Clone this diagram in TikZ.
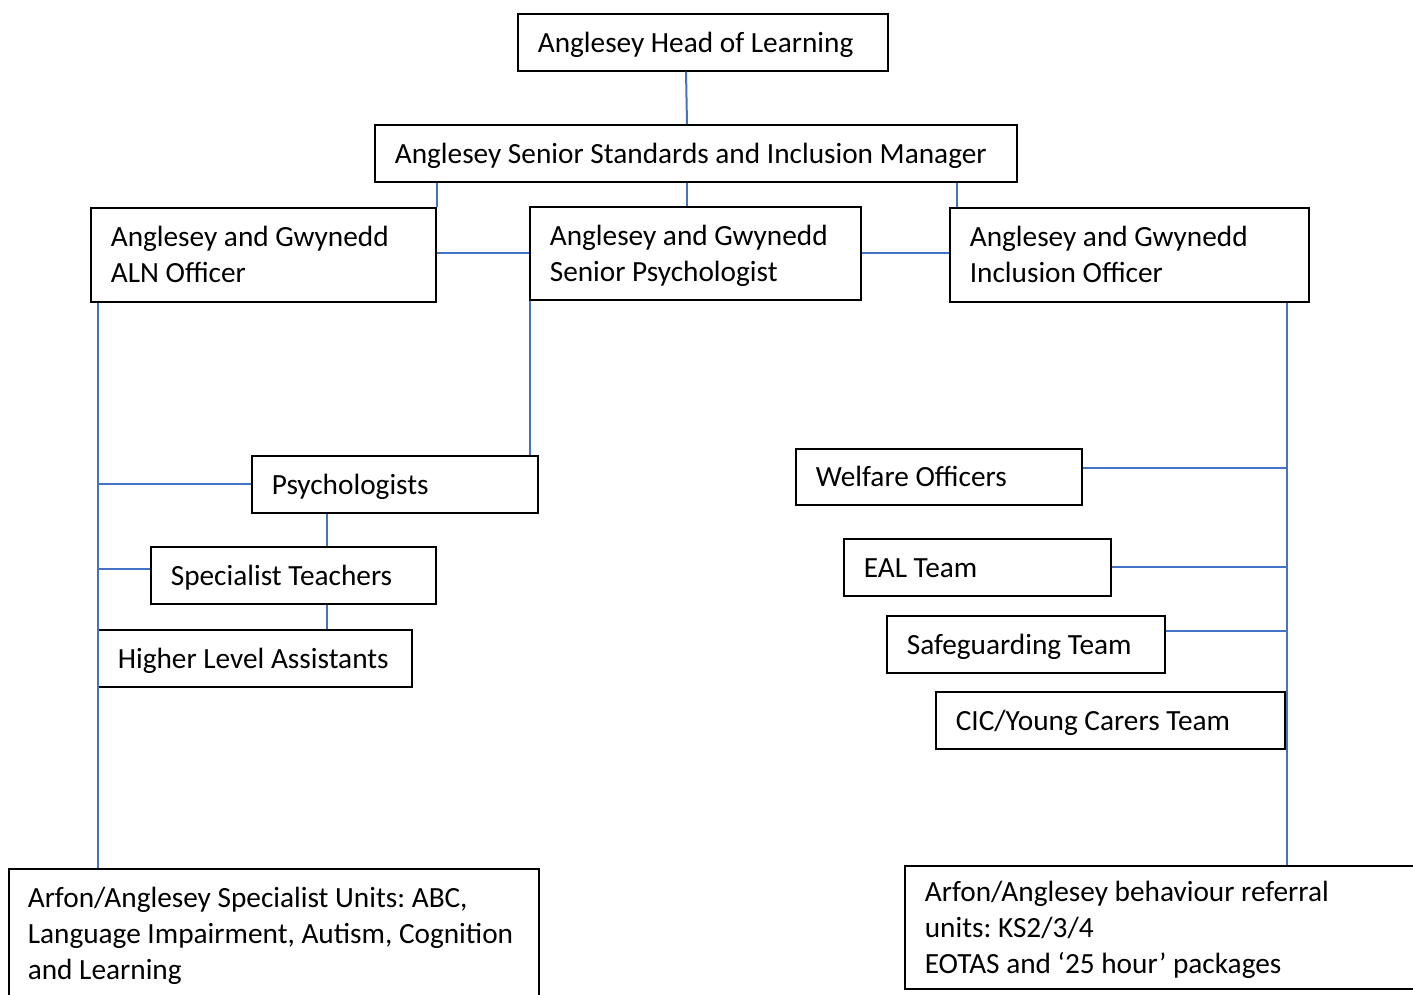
\documentclass[tikz,border=0pt]{standalone}
\usepackage{fontspec}
\setmainfont{Carlito}
\usepackage{xcolor}
\definecolor{linkblue}{RGB}{68,114,196}
\usetikzlibrary{calc}

\begin{document}
\frenchspacing
\begin{tikzpicture}[x=1pt, y=-1pt,
block/.style = {draw, line width=1.6pt, fill=white, rectangle, anchor=north west, align=flush left, inner xsep=20pt, inner ysep=0pt, font=\fontsize{29.3}{36}\selectfont, execute at begin node=\rule{0pt}{31pt}, execute at end node=\strut},
link/.style = {draw=linkblue, line width=2pt}
]

    \useasboundingbox (0,0) rectangle (1413,994);

    \node [block, text width=330, minimum height=57] (head) at (517,13) {Anglesey Head of Learning};
    \node [block, text width=602, minimum height=57] (mgr) at (374,124) {Anglesey Senior Standards and Inclusion Manager};

    \node [block, text width=305, minimum height=94] (aln) at (90,207) {Anglesey and Gwynedd\\ALN Officer};
    \node [block, text width=291, minimum height=93] (sp) at (529,206) {Anglesey and Gwynedd\\Senior Psychologist};
    \node [block, text width=319, minimum height=94] (inc) at (949,207) {Anglesey and Gwynedd\\Inclusion Officer};

    \node [block, text width=246, minimum height=57] (psy) at (251,455) {Psychologists};
    \node [block, text width=245, minimum height=57] (st) at (150,546) {Specialist Teachers};
    \node [block, text width=274, minimum height=57] (hla) at (97,629) {Higher Level Assistants};

    \node [block, text width=246, minimum height=56] (wel) at (795,448) {Welfare Officers};
    \node [block, text width=227, minimum height=57] (eal) at (843,538) {EAL Team};
    \node [block, text width=238, minimum height=57] (safe) at (886,615) {Safeguarding Team};
    \node [block, text width=309, minimum height=57] (cic) at (935,691) {CIC/Young Carers Team};

    \node [block, text width=492, inner xsep=19pt, minimum height=129] (units) at (8,868) {Arfon/Anglesey Specialist Units: ABC,\\Language Impairment, Autism, Cognition\\and Learning};
    \node [block, text width=480, minimum height=123] (beh) at (904,865) {Arfon/Anglesey behaviour referral\\units: KS2/3/4\\EOTAS and `25 hour' packages};

    \coordinate (ltop) at ([xshift=8pt]aln.south west);
    \coordinate (rtop) at ([xshift=-23pt]inc.south east);

    \draw [link] ([xshift=169pt]head.south west) -- ([xshift=313pt]mgr.north west);
    \draw [link] (aln.north east) -- (aln.north east |- mgr.south);
    \draw [link] ([xshift=158pt]sp.north west) -- ([xshift=158pt]sp.north west |- mgr.south);
    \draw [link] ([xshift=8pt]inc.north west) -- ([xshift=8pt]inc.north west |- mgr.south);

    \draw [link] (sp.west) -- (sp.west -| aln.east);
    \draw [link] (sp.east) -- (sp.east -| inc.west);

    \draw [link] (ltop) -- (ltop |- units.north);
    \draw [link] (psy.west) -- (psy.west -| ltop);
    \draw [link] ([yshift=6pt]st.west) -- ([yshift=6pt]st.west -| ltop);
    \draw [link] ([xshift=1pt]sp.south west) -- ([xshift=1pt]sp.south west |- psy.north);
    \draw [link] ([xshift=76pt]psy.south west) -- ([xshift=76pt]psy.south west |- st.north);
    \draw [link] ([xshift=177pt]st.south west) -- ([xshift=177pt]st.south west |- hla.north);

    \draw [link] (rtop) -- (rtop |- beh.north);
    \draw [link] ([yshift=9pt]wel.east) -- ([yshift=9pt]wel.east -| rtop);
    \draw [link] (eal.east) -- (eal.east -| rtop);
    \draw [link] ([yshift=13pt]safe.east) -- ([yshift=13pt]safe.east -| rtop);

\end{tikzpicture}
\end{document}
